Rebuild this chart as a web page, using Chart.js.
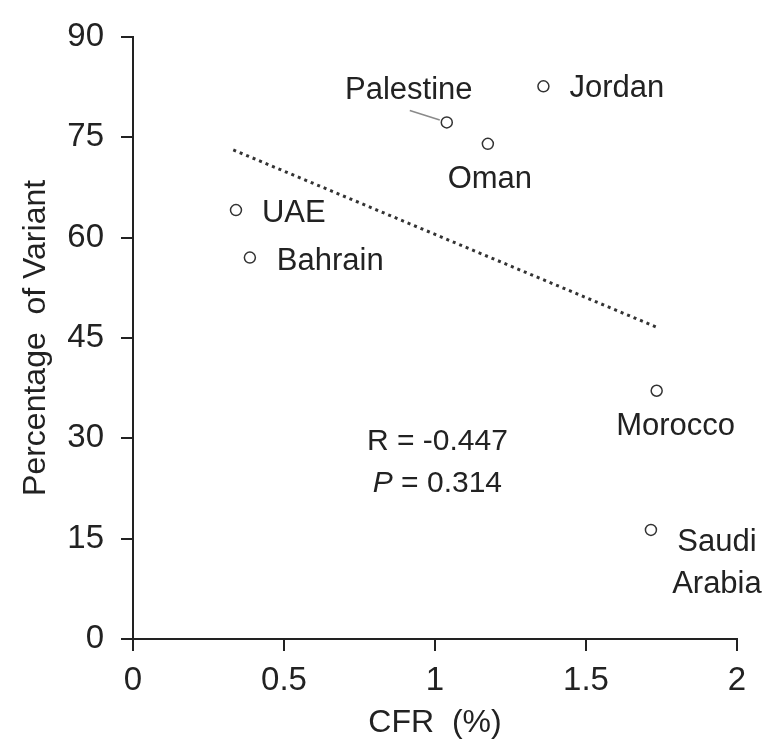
<!DOCTYPE html>
<html>
<head>
<meta charset="utf-8">
<script src="https://cdn.jsdelivr.net/npm/chart.js@4"></script>
<style>
  body { margin: 0; background: #fff; }
  #wrap { width: 772px; height: 742px; }
</style>
</head>
<body>
<div id="wrap"><canvas id="cfrChart"></canvas></div>
<script>
// values
const countries = ["UAE", "Bahrain", "Palestine", "Oman", "Jordan", "Morocco", "Saudi Arabia"];
const cfr = [0.341, 0.387, 1.039, 1.175, 1.359, 1.734, 1.715];
const variantPct = [64.1, 57.0, 77.2, 74.0, 82.6, 37.1, 16.3];

const trendX = [0.332, 1.734];
const trendY = [73.1, 46.6];

const xTickLabels = ["0", "0.5", "1", "1.5", "2"];
const yTickLabels = ["0", "15", "30", "45", "60", "75", "90"];

const statsX = 1.008;
const statsY = [28.2, 22.0];

// label placement around each point (pixels)
const labelStyle = {
  UAE: { dx: 26, dy: [12], align: "left" },
  Bahrain: { dx: 27, dy: [12], align: "left" },
  Palestine: { dx: -38, dy: [-23], align: "center", leader: [-37, -12, -7, -2.5] },
  Oman: { dx: 2, dy: [44], align: "center" },
  Jordan: { dx: 26, dy: [11], align: "left" },
  Morocco: { dx: 19, dy: [44], align: "center" },
  "Saudi Arabia": { dx: 66, dy: [21, 63], align: "center", lines: ["Saudi", "Arabia"] },
};

const FONT = "'Liberation Sans', Arial, sans-serif";
const INK = "#222";

const pointLabels = {
  id: "pointLabels",
  afterDatasetsDraw(chart) {
    const ctx = chart.ctx;
    const xs = chart.scales.x;
    const ys = chart.scales.y;
    ctx.save();
    ctx.fillStyle = INK;
    ctx.textBaseline = "alphabetic";
    ctx.font = "31px " + FONT;
    countries.forEach((name, i) => {
      const px = xs.getPixelForValue(cfr[i]);
      const py = ys.getPixelForValue(variantPct[i]);
      const st = labelStyle[name];
      const lines = st.lines || [name];
      ctx.textAlign = st.align;
      lines.forEach((t, k) => ctx.fillText(t, px + st.dx, py + st.dy[k]));
      if (st.leader) {
        ctx.strokeStyle = "#8a8a8a";
        ctx.lineWidth = 1.5;
        ctx.beginPath();
        ctx.moveTo(px + st.leader[0], py + st.leader[1]);
        ctx.lineTo(px + st.leader[2], py + st.leader[3]);
        ctx.stroke();
      }
    });

    // R and P annotation
    const cx = xs.getPixelForValue(statsX);
    ctx.font = "30px " + FONT;
    ctx.textAlign = "center";
    ctx.fillText("R = -0.447", cx, ys.getPixelForValue(statsY[0]));
    const rest = " = 0.314";
    ctx.font = "italic 30px " + FONT;
    const wP = ctx.measureText("P").width;
    ctx.font = "30px " + FONT;
    const wR = ctx.measureText(rest).width;
    const start = cx - (wP + wR) / 2;
    const by = ys.getPixelForValue(statsY[1]);
    ctx.textAlign = "left";
    ctx.font = "italic 30px " + FONT;
    ctx.fillText("P", start, by);
    ctx.font = "30px " + FONT;
    ctx.fillText(rest, start + wP, by);
    ctx.restore();
  },
};

const ctx = document.getElementById("cfrChart").getContext("2d");

window.cfrChart = new Chart(ctx, {
  type: "scatter",
  data: {
    datasets: [
      {
        label: "trend",
        type: "line",
        data: trendX.map((x, i) => ({ x: x, y: trendY[i] })),
        borderColor: "#333",
        borderWidth: 3,
        borderDash: [3, 4],
        pointRadius: 0,
        fill: false,
      },
      {
        label: "countries",
        data: cfr.map((x, i) => ({ x: x, y: variantPct[i] })),
        pointRadius: 5.5,
        pointBorderWidth: 1.5,
        pointBorderColor: "#333",
        pointBackgroundColor: "#fff",
      },
    ],
  },
  options: {
    responsive: true,
    maintainAspectRatio: false,
    animation: false,
    layout: { padding: { top: 33, right: 35, left: 0, bottom: 0 } },
    plugins: {
      legend: { display: false },
      tooltip: { enabled: false },
    },
    scales: {
      x: {
        type: "linear",
        min: 0,
        max: 2,
        afterFit: (scale) => { scale.height = 103; },
        afterBuildTicks: (scale) => {
          scale.ticks = xTickLabels.map((t) => ({ value: parseFloat(t) }));
        },
        ticks: {
          callback: (v, i) => xTickLabels[i],
          color: INK,
          padding: 10,
          maxRotation: 0,
          font: { family: FONT, size: 33 },
        },
        grid: {
          drawOnChartArea: false,
          drawTicks: true,
          tickLength: 12,
          color: INK,
          lineWidth: 2,
        },
        border: { display: true, color: INK, width: 2 },
        title: {
          display: true,
          text: "CFR  (%)",
          color: INK,
          padding: { top: 0, bottom: 0 },
          font: { family: FONT, size: 32 },
        },
      },
      y: {
        type: "linear",
        min: 0,
        max: 90,
        afterFit: (scale) => { scale.width = 133; },
        afterBuildTicks: (scale) => {
          scale.ticks = yTickLabels.map((t) => ({ value: parseFloat(t) }));
        },
        ticks: {
          callback: (v, i) => yTickLabels[i],
          color: INK,
          padding: 17,
          font: { family: FONT, size: 33 },
        },
        grid: {
          drawOnChartArea: false,
          drawTicks: true,
          tickLength: 12,
          color: INK,
          lineWidth: 2,
        },
        border: { display: true, color: INK, width: 2 },
        title: {
          display: true,
          text: "Percentage  of Variant",
          color: INK,
          padding: { top: 17, bottom: 0 },
          font: { family: FONT, size: 32 },
        },
      },
    },
  },
  plugins: [pointLabels],
});
</script>
</body>
</html>
